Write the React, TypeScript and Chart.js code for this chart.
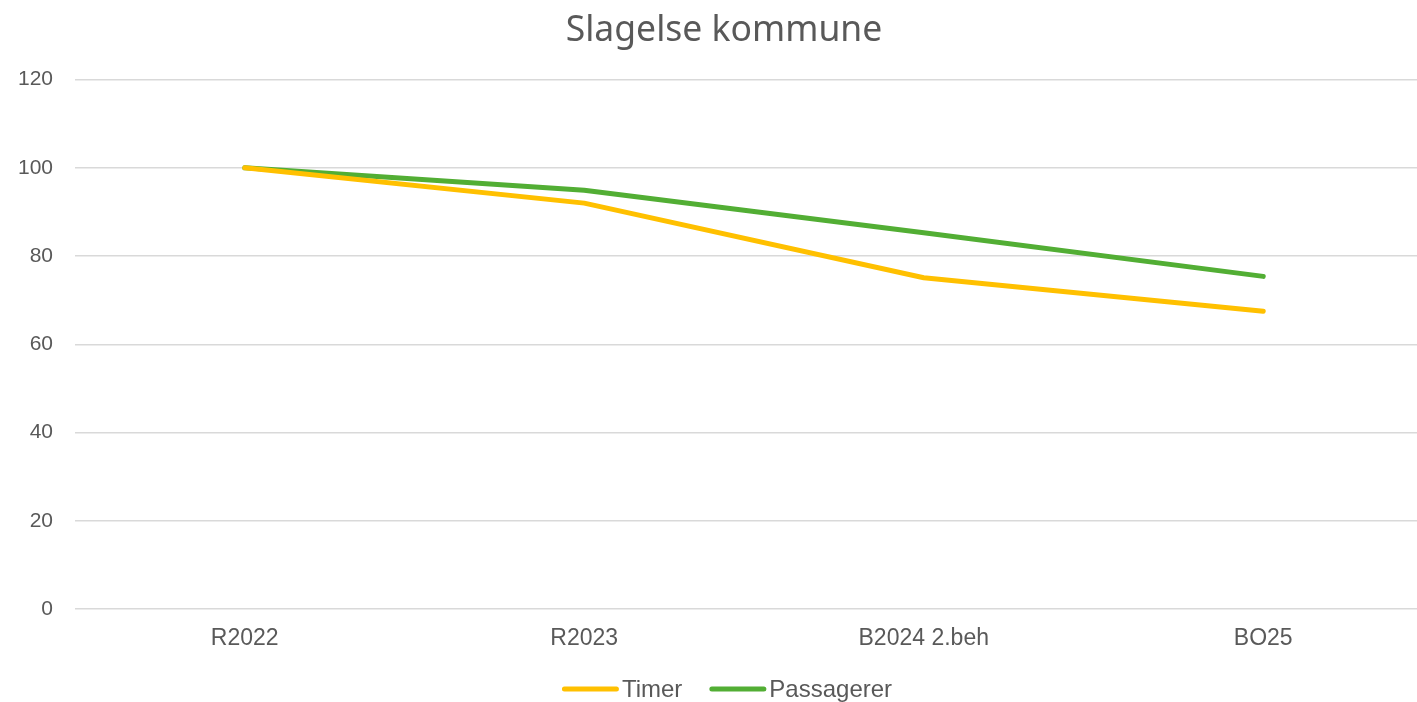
import React, { useEffect, useRef } from "react";
import { Chart, registerables } from "chart.js";

Chart.register(...registerables);

const categories = ["R2022", "R2023", "B2024 2.beh", "BO25"];
const timer = [100, 92, 75.1, 67.5];
const passagerer = [100, 94.9, 85.3, 75.4];
const yTicks = [0, 20, 40, 60, 80, 100, 120];

const TEXT = "#595959";
const FONT = "'Liberation Sans', Arial, sans-serif";

const bottomLegend = {
  id: "bottomLegend",
  afterDraw(chart: any) {
    const ctx = chart.ctx as CanvasRenderingContext2D;
    ctx.save();
    ctx.font = `24px ${FONT}`;
    const lineLen = 52;
    const cap = 2.5;
    const textGap = 3;
    const itemGap = 27;
    const items = chart.data.datasets.map((ds: any) => ({
      label: ds.label as string,
      color: ds.borderColor as string,
      w: ctx.measureText(ds.label).width,
    }));
    const total =
      items.reduce((s: number, it: any) => s + cap * 2 + lineLen + textGap + it.w, 0) +
      itemGap * (items.length - 1);
    let x = chart.width / 2 + 3 - total / 2;
    const y = 689;
    ctx.textBaseline = "middle";
    ctx.textAlign = "left";
    for (const it of items) {
      ctx.beginPath();
      ctx.strokeStyle = it.color;
      ctx.lineWidth = 5;
      ctx.lineCap = "round";
      ctx.moveTo(x + cap, y);
      ctx.lineTo(x + cap + lineLen, y);
      ctx.stroke();
      x += cap * 2 + lineLen + textGap;
      ctx.fillStyle = TEXT;
      ctx.fillText(it.label, x, y + 1);
      x += it.w + itemGap;
    }
    ctx.restore();
  },
};

export default function App() {
  const ref = useRef<HTMLCanvasElement | null>(null);

  useEffect(() => {
    if (!ref.current) return;
    const chart = new Chart(ref.current, {
      type: "line",
      data: {
        labels: categories,
        datasets: [
          {
            label: "Timer",
            data: timer,
            borderColor: "#FFC000",
            backgroundColor: "#FFC000",
            borderWidth: 5,
            borderCapStyle: "round",
            borderJoinStyle: "round",
            pointRadius: 0,
            tension: 0,
          },
          {
            label: "Passagerer",
            data: passagerer,
            borderColor: "#52AE34",
            backgroundColor: "#52AE34",
            borderWidth: 5,
            borderCapStyle: "round",
            borderJoinStyle: "round",
            pointRadius: 0,
            tension: 0,
          },
        ],
      },
      plugins: [bottomLegend],
      options: {
        animation: false,
        responsive: false,
        layout: { padding: { left: 15, right: 15, top: 10, bottom: 48 } },
        plugins: {
          title: {
            display: true,
            text: "Slagelse kommune",
            color: TEXT,
            font: { family: "'Noto Sans', sans-serif", size: 35.5, weight: "normal" },
            padding: { top: 0, bottom: 27 },
          },
          legend: { display: false },
          tooltip: { enabled: false },
        },
        scales: {
          x: {
            offset: true,
            afterFit: (axis: any) => {
              axis.height = 45;
            },
            grid: { display: false, drawTicks: false },
            border: { display: false },
            ticks: {
              color: TEXT,
              font: { family: FONT, size: 23 },
              padding: 16,
              maxRotation: 0,
            },
          },
          y: {
            min: 0,
            max: 120,
            afterBuildTicks: (axis: any) => {
              axis.ticks = yTicks.map((v) => ({ value: v }));
            },
            afterFit: (axis: any) => {
              axis.width = 60;
            },
            grid: { color: "#D9D9D9", lineWidth: 1.5, drawTicks: false },
            border: { display: false },
            ticks: {
              color: TEXT,
              font: { family: FONT, size: 21 },
              padding: 22,
            },
          },
        },
      },
    });
    return () => chart.destroy();
  }, []);

  return (
    <div
      style={{
        position: "fixed",
        left: 0,
        top: 0,
        width: 1417,
        height: 702,
        overflow: "hidden",
        background: "#fff",
      }}
    >
      <canvas ref={ref} width={1448} height={702} style={{ width: 1448, height: 702, display: "block" }} />
    </div>
  );
}
